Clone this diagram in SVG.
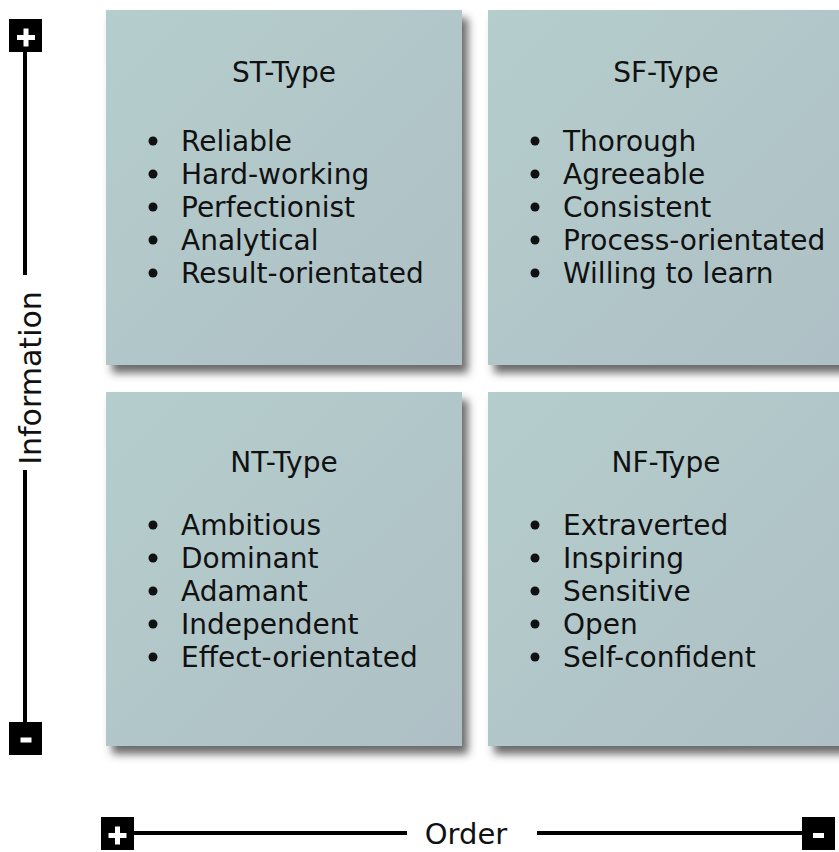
<svg xmlns="http://www.w3.org/2000/svg" width="839" height="852" viewBox="0 0 839 852">
<style>
.box{fill:url(#g);filter:url(#sh)}
.t{font-family:"DejaVu Sans","Verdana",sans-serif;font-size:28px;fill:#111}
.ttl{text-anchor:middle}
.ax{font-family:"DejaVu Sans","Verdana",sans-serif;font-size:30px;fill:#111;text-anchor:middle}
.bul{fill:#111}
.ln{stroke:#000;stroke-width:4;fill:none}
.ico{fill:#000}
.sym{fill:#fff}
</style>
<defs>
<linearGradient id="g" x1="0" y1="0" x2="1" y2="1">
<stop offset="0" stop-color="#b5cdcc"/>
<stop offset="1" stop-color="#aec0c5"/>
</linearGradient>
<filter id="sh" x="-10%" y="-10%" width="130%" height="130%">
<feDropShadow dx="6" dy="8" stdDeviation="4" flood-color="#444" flood-opacity="0.8"/>
</filter>
</defs>
<rect width="839" height="852" fill="#fff"/>

<g id="st-type">
<rect class="box" x="106" y="10" width="356" height="355"/>
<text class="t ttl" x="284" y="82">ST-Type</text>
<g class="bul"><circle cx="153" cy="141" r="4.5"/><circle cx="153" cy="174" r="4.5"/><circle cx="153" cy="207" r="4.5"/><circle cx="153" cy="240" r="4.5"/><circle cx="153" cy="273" r="4.5"/></g>
<text class="t" x="181" y="151">Reliable</text>
<text class="t" x="181" y="184">Hard-working</text>
<text class="t" x="181" y="217">Perfectionist</text>
<text class="t" x="181" y="250">Analytical</text>
<text class="t" x="181" y="283">Result-orientated</text>
</g>

<g id="sf-type">
<rect class="box" x="488" y="10" width="356" height="355"/>
<text class="t ttl" x="666" y="82">SF-Type</text>
<g class="bul"><circle cx="535" cy="141" r="4.5"/><circle cx="535" cy="174" r="4.5"/><circle cx="535" cy="207" r="4.5"/><circle cx="535" cy="240" r="4.5"/><circle cx="535" cy="273" r="4.5"/></g>
<text class="t" x="563" y="151">Thorough</text>
<text class="t" x="563" y="184">Agreeable</text>
<text class="t" x="563" y="217">Consistent</text>
<text class="t" x="563" y="250">Process-orientated</text>
<text class="t" x="563" y="283">Willing to learn</text>
</g>

<g id="nt-type">
<rect class="box" x="106" y="392" width="356" height="354"/>
<text class="t ttl" x="284" y="472">NT-Type</text>
<g class="bul"><circle cx="153" cy="525" r="4.5"/><circle cx="153" cy="558" r="4.5"/><circle cx="153" cy="591" r="4.5"/><circle cx="153" cy="624" r="4.5"/><circle cx="153" cy="657" r="4.5"/></g>
<text class="t" x="181" y="535">Ambitious</text>
<text class="t" x="181" y="568">Dominant</text>
<text class="t" x="181" y="601">Adamant</text>
<text class="t" x="181" y="634">Independent</text>
<text class="t" x="181" y="667">Effect-orientated</text>
</g>

<g id="nf-type">
<rect class="box" x="488" y="392" width="356" height="354"/>
<text class="t ttl" x="666" y="472">NF-Type</text>
<g class="bul"><circle cx="535" cy="525" r="4.5"/><circle cx="535" cy="558" r="4.5"/><circle cx="535" cy="591" r="4.5"/><circle cx="535" cy="624" r="4.5"/><circle cx="535" cy="657" r="4.5"/></g>
<text class="t" x="563" y="535">Extraverted</text>
<text class="t" x="563" y="568">Inspiring</text>
<text class="t" x="563" y="601">Sensitive</text>
<text class="t" x="563" y="634">Open</text>
<text class="t" x="563" y="667">Self-confident</text>
</g>

<g id="axes">
<line class="ln" x1="25" y1="50" x2="25" y2="275"/>
<line class="ln" x1="25" y1="470" x2="25" y2="724"/>
<line class="ln" x1="132" y1="833" x2="407" y2="833"/>
<line class="ln" x1="537" y1="833" x2="804" y2="833"/>
</g>

<g id="info-label">
<text class="ax" transform="translate(41,378) rotate(-90)">Information</text>
</g>
<g id="order-label">
<text class="ax" x="466" y="844" style="font-size:29px">Order</text>
</g>

<g id="info-plus">
<rect class="ico" x="9" y="19" width="33" height="33"/>
<rect class="sym" x="17" y="35" width="18" height="5"/>
<rect class="sym" x="23.5" y="28.5" width="5" height="18"/>
</g>
<g id="info-minus">
<rect class="ico" x="9" y="722" width="33" height="33"/>
<rect class="sym" x="20.5" y="737.5" width="11" height="5"/>
</g>
<g id="order-plus">
<rect class="ico" x="101" y="817" width="33" height="33"/>
<rect class="sym" x="108.5" y="833" width="18" height="5"/>
<rect class="sym" x="115" y="826.5" width="5" height="18"/>
</g>
<g id="order-minus">
<rect class="ico" x="802" y="817" width="33" height="33"/>
<rect class="sym" x="813" y="833" width="11" height="5"/>
</g>
</svg>
